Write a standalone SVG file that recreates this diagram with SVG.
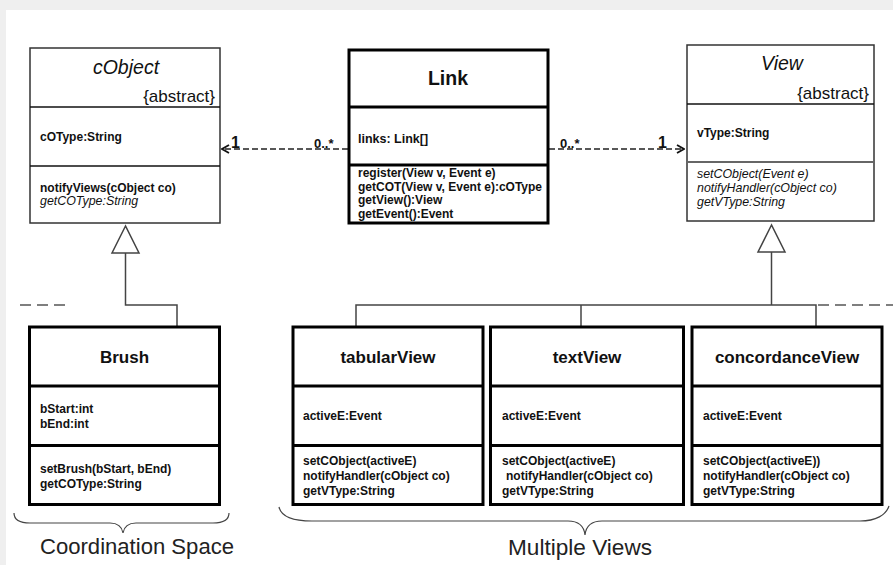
<svg xmlns="http://www.w3.org/2000/svg" width="893" height="565" viewBox="0 0 893 565">
<style>
.thin{fill:#fff;stroke:#333;stroke-width:1.5}
.thick{fill:#fff;stroke:#000;stroke-width:3}
.div1{stroke:#111;stroke-width:1.5}
.div3{stroke:#000;stroke-width:3}
.t{font-family:"Liberation Sans",Arial,sans-serif;fill:#111}
.b12{font-size:12px;font-weight:bold}
.i12{font-size:12.4px;font-style:italic}
.h17{font-size:17px;font-weight:bold}
.it20{font-size:19.5px;font-style:italic}
.abs{font-size:17px}
.gen{fill:none;stroke:#444;stroke-width:1.5}
.dash{fill:none;stroke:#222;stroke-width:1.6;stroke-dasharray:6 3}
.brace{fill:none;stroke:#444;stroke-width:1.2}
.lbl{font-family:"Liberation Sans",Arial,sans-serif;font-size:22px;fill:#222}
.mult{font-family:"Liberation Sans",Arial,sans-serif;fill:#111;font-weight:bold}
</style>
<defs>
<marker id="open" viewBox="0 0 10 10" refX="9" refY="5" markerWidth="10" markerHeight="10" markerUnits="userSpaceOnUse" orient="auto">
<polyline points="2,1 9,5 2,9" fill="none" stroke="#111" stroke-width="1.8"/>
</marker>
<clipPath id="linkclip"><rect x="350" y="50" width="197" height="172"/></clipPath>
</defs>
<rect x="0" y="0" width="893" height="565" fill="#efefef"/>
<rect x="6" y="10" width="887" height="555" fill="#fff"/>

<g id="connectors">
<line class="dash" x1="348" y1="149" x2="222" y2="149" marker-end="url(#open)"/>
<line class="dash" x1="549" y1="149" x2="684" y2="149" marker-end="url(#open)"/>
<polygon class="gen" points="125.5,226 112,253 139,253" style="fill:#fff"/>
<polyline class="gen" points="125.5,253 125.5,305 177,305 177,327"/>
<line class="dash" x1="20" y1="305" x2="66" y2="305" style="stroke:#555;stroke-width:1.5;stroke-dasharray:11 6"/>
<polygon class="gen" points="771.5,225 758,252 785,252" style="fill:#fff"/>
<line class="gen" x1="771.5" y1="252" x2="771.5" y2="305"/>
<polyline class="gen" points="356,327 356,305 816,305 816,327"/>
<line class="gen" x1="581" y1="305" x2="581" y2="327"/>
<line class="dash" x1="818" y1="305" x2="893" y2="305" style="stroke:#555;stroke-width:1.5;stroke-dasharray:11 6"/>
<text class="mult" x="231" y="148" font-size="16">1</text>
<text class="mult" x="314" y="148" font-size="13">0..*</text>
<text class="mult" x="560" y="148" font-size="13">0..*</text>
<text class="mult" x="658" y="148" font-size="16">1</text>
</g>

<g id="cObject">
<rect class="thin" x="30" y="48" width="190" height="175"/>
<line class="div1" x1="30" y1="107" x2="220" y2="107"/>
<line class="div1" x1="30" y1="166" x2="220" y2="166"/>
<text class="t it20" x="126" y="74" text-anchor="middle">cObject</text>
<text class="t abs" x="215" y="102" text-anchor="end">{abstract}</text>
<text class="t b12" x="40" y="141">cOType:String</text>
<text class="t b12" x="40" y="192">notifyViews(cObject co)</text>
<text class="t i12" x="40" y="205">getCOType:String</text>
</g>

<g id="Link">
<rect class="thick" x="349" y="50" width="199" height="173"/>
<line class="div3" x1="349" y1="107" x2="548" y2="107"/>
<line class="div3" x1="349" y1="165" x2="548" y2="165"/>
<text class="t" x="448" y="85" text-anchor="middle" font-size="19.5" font-weight="bold">Link</text>
<text class="t" x="358" y="143" font-size="12.5" font-weight="bold">links: Link[]</text>
<g clip-path="url(#linkclip)">
<text class="t b12" x="358" y="177">register(View v, Event e)</text>
<text class="t b12" x="358" y="190.5">getCOT(View v, Event e):cOType</text>
<text class="t b12" x="358" y="204">getView():View</text>
<text class="t b12" x="358" y="217.5">getEvent():Event</text>
</g>
</g>

<g id="View">
<rect class="thin" x="687" y="45" width="187" height="176"/>
<line class="div1" x1="687" y1="104" x2="874" y2="104"/>
<line x1="687" y1="162" x2="874" y2="162" stroke="#666" stroke-width="2"/>
<text class="t it20" x="782" y="70" text-anchor="middle">View</text>
<text class="t abs" x="869" y="99" text-anchor="end">{abstract}</text>
<text class="t b12" x="697" y="137">vType:String</text>
<text class="t i12" x="697" y="178">setCObject(Event e)</text>
<text class="t i12" x="697" y="192">notifyHandler(cObject co)</text>
<text class="t i12" x="697" y="206">getVType:String</text>
</g>

<g id="Brush">
<rect class="thick" x="29.5" y="327" width="190" height="177.5"/>
<line class="div3" x1="29.5" y1="386" x2="219.5" y2="386"/>
<line class="div3" x1="29.5" y1="445.5" x2="219.5" y2="445.5"/>
<text class="t h17" x="124.5" y="363" text-anchor="middle">Brush</text>
<text class="t b12" x="40" y="413">bStart:int</text>
<text class="t b12" x="40" y="428">bEnd:int</text>
<text class="t b12" x="40" y="473">setBrush(bStart, bEnd)</text>
<text class="t b12" x="40" y="488">getCOType:String</text>
</g>

<g id="tabularView">
<rect class="thick" x="293" y="327" width="190" height="177.5"/>
<line class="div3" x1="293" y1="386" x2="483" y2="386"/>
<line class="div3" x1="293" y1="445.5" x2="483" y2="445.5"/>
<text class="t h17" x="388" y="363" text-anchor="middle">tabularView</text>
<text class="t b12" x="303" y="420">activeE:Event</text>
<text class="t b12" x="303" y="465">setCObject(activeE)</text>
<text class="t b12" x="303" y="480">notifyHandler(cObject co)</text>
<text class="t b12" x="303" y="495">getVType:String</text>
</g>

<g id="textView">
<rect class="thick" x="490.5" y="327" width="193" height="177.5"/>
<line class="div3" x1="490.5" y1="386" x2="683.5" y2="386"/>
<line class="div3" x1="490.5" y1="445.5" x2="683.5" y2="445.5"/>
<text class="t h17" x="587" y="363" text-anchor="middle">textView</text>
<text class="t b12" x="502" y="420">activeE:Event</text>
<text class="t b12" x="502" y="465">setCObject(activeE)</text>
<text class="t b12" x="506" y="480">notifyHandler(cObject co)</text>
<text class="t b12" x="502" y="495">getVType:String</text>
</g>

<g id="concordanceView">
<rect class="thick" x="692" y="327" width="190" height="177.5"/>
<line class="div3" x1="692" y1="386" x2="882" y2="386"/>
<line class="div3" x1="692" y1="445.5" x2="882" y2="445.5"/>
<text class="t h17" x="787" y="363" text-anchor="middle">concordanceView</text>
<text class="t b12" x="703" y="420">activeE:Event</text>
<text class="t b12" x="703" y="465">setCObject(activeE))</text>
<text class="t b12" x="703" y="480">notifyHandler(cObject co)</text>
<text class="t b12" x="703" y="495">getVType:String</text>
</g>

<g id="coordinationSpace">
<path class="brace" d="M14,513 C14,520 19,523 30,523 L110,523 C118,523 122,527 123,533 C124,527 128,523 136,523 L213,523 C224,523 229,520 229,513"/>
<text class="lbl" x="40" y="554" textLength="194" lengthAdjust="spacingAndGlyphs">Coordination Space</text>
</g>

<g id="multipleViews">
<path class="brace" d="M279,507 C281,516 292,521 312,521 L568,521 C579,521 584,526 585,535 C586,526 591,521 602,521 L860,521 C876,521 886,515 889,506"/>
<text class="lbl" x="508" y="555" textLength="144" lengthAdjust="spacingAndGlyphs">Multiple Views</text>
</g>
</svg>
